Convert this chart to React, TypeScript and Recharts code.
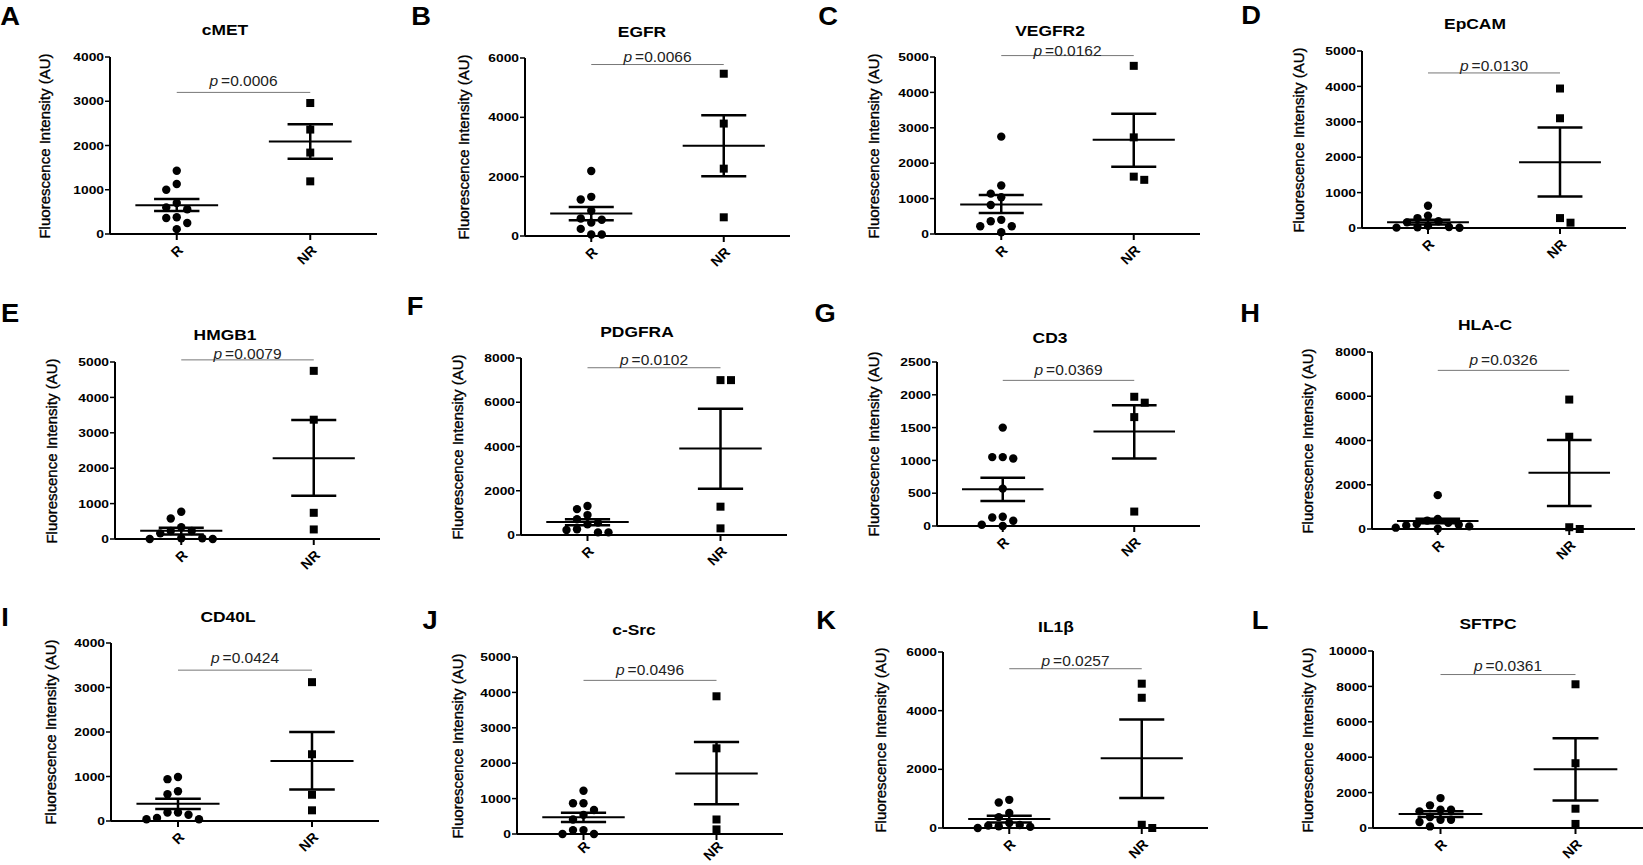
import React from "react";
import { ComposedChart, Scatter, XAxis, YAxis, ReferenceLine } from "recharts";

const FONT = '"Liberation Sans", Arial, sans-serif';

const groups = ["R", "NR"];

// fluorescence intensity (AU) per sample, responders (R) / non-responders (NR)
const cmetR = [1430, 1130, 1000, 700, 600, 560, 380, 360, 250, 110];
const cmetNR = [2960, 2360, 1840, 1190];
const egfrR = [2190, 1320, 1230, 850, 590, 550, 450, 240, 50, 50];
const egfrNR = [5470, 3790, 2270, 630];
const vegfr2R = [2750, 1370, 1140, 1040, 820, 400, 360, 220, 220, 50];
const vegfr2NR = [4750, 2730, 1620, 1530];
const epcamR = [630, 350, 280, 190, 160, 60, 30, 20, 10, 5];
const epcamNR = [3940, 3100, 280, 150];
const hmgb1R = [770, 580, 330, 225, 225, 160, 20, 20, 0, 0];
const hmgb1NR = [4750, 3370, 740, 270];
const pdgfraR = [1310, 1170, 900, 710, 560, 480, 260, 230, 120, 120];
const pdgfraNR = [7000, 7000, 1280, 300];
const cd3R = [1500, 1050, 1030, 1050, 570, 140, 130, 80, 0, 20];
const cd3NR = [1970, 1880, 1660, 220];
const hlacR = [1530, 450, 380, 280, 220, 190, 160, 120, 60, 10];
const hlacNR = [5850, 4170, 0, 80];
const cd40lR = [990, 940, 670, 600, 190, 190, 140, 70, 40, 40];
const cd40lNR = [3120, 1500, 590, 240];
const csrcR = [1220, 870, 870, 680, 540, 410, 110, 110, 0, 0];
const csrcNR = [3890, 2420, 410, 130];
const il1bR = [960, 870, 510, 370, 170, 100, 80, 60, 40, 0];
const il1bNR = [4920, 4440, 0, 110];
const sftpcR = [1690, 1280, 1030, 1030, 940, 620, 470, 470, 340, 90];
const sftpcNR = [8120, 3660, 1090, 230];

const markers = ["cMET", "EGFR", "VEGFR2", "EpCAM", "HMGB1", "PDGFRA", "CD3", "HLA-C", "CD40L", "c-Src", "IL1β", "SFTPC"];
const panelLetters = ["A", "B", "C", "D", "E", "F", "G", "H", "I", "J", "K", "L"];
const rValues = [cmetR, egfrR, vegfr2R, epcamR, hmgb1R, pdgfraR, cd3R, hlacR, cd40lR, csrcR, il1bR, sftpcR];
const nrValues = [cmetNR, egfrNR, vegfr2NR, epcamNR, hmgb1NR, pdgfraNR, cd3NR, hlacNR, cd40lNR, csrcNR, il1bNR, sftpcNR];

// [mean, mean - SEM, mean + SEM]
const rMeanSem = [
  [650, 520, 790], [760, 530, 980], [830, 590, 1100], [165, 100, 230],
  [230, 130, 320], [585, 440, 710], [560, 380, 735], [360, 256, 466],
  [390, 270, 500], [470, 340, 600], [310, 190, 420], [790, 620, 950],
];
const nrMeanSem = [
  [2090, 1700, 2480], [3040, 2010, 4070], [2660, 1900, 3400], [1860, 890, 2840],
  [2280, 1220, 3360], [3910, 2090, 5710], [1440, 1030, 1840], [2540, 1040, 4020],
  [1350, 710, 2000], [1710, 840, 2600], [2380, 1020, 3700], [3320, 1560, 5070],
];

const pValues = ["0.0006", "0.0066", "0.0162", "0.0130", "0.0079", "0.0102", "0.0369", "0.0326", "0.0424", "0.0496", "0.0257", "0.0361"];
const pBarAt = [3200, 5780, 5040, 4380, 5060, 7560, 2220, 7170, 3390, 4340, 5430, 8670];

const yTicks = [
  [0, 1000, 2000, 3000, 4000],
  [0, 2000, 4000, 6000],
  [0, 1000, 2000, 3000, 4000, 5000],
  [0, 1000, 2000, 3000, 4000, 5000],
  [0, 1000, 2000, 3000, 4000, 5000],
  [0, 2000, 4000, 6000, 8000],
  [0, 500, 1000, 1500, 2000, 2500],
  [0, 2000, 4000, 6000, 8000],
  [0, 1000, 2000, 3000, 4000],
  [0, 1000, 2000, 3000, 4000, 5000],
  [0, 2000, 4000, 6000],
  [0, 2000, 4000, 6000, 8000, 10000],
];

// where each panel sits on the page (px)
const LAYOUT = [
  { axisX: 110, xRight: 377, yTop: 57, yBot: 234, titleX: 225, titleY: 30, letterX: 10, letterY: 16, labelX: 44, pGap: 6, tickGap: 4 },
  { axisX: 525, xRight: 790, yTop: 58, yBot: 236, titleX: 642, titleY: 32, letterX: 421, letterY: 16, labelX: 463, pGap: 3, tickGap: 4 },
  { axisX: 935, xRight: 1200, yTop: 57, yBot: 234, titleX: 1050, titleY: 31, letterX: 828, letterY: 16, labelX: 873, pGap: 0, tickGap: 4 },
  { axisX: 1362, xRight: 1626, yTop: 51, yBot: 228, titleX: 1475, titleY: 24, letterX: 1251, letterY: 15, labelX: 1298, pGap: 2, tickGap: 4 },
  { axisX: 115, xRight: 380, yTop: 362, yBot: 539, titleX: 225, titleY: 335, letterX: 10, letterY: 313, labelX: 51, pGap: 1, tickGap: 4 },
  { axisX: 521, xRight: 787, yTop: 358, yBot: 535, titleX: 637, titleY: 332, letterX: 415, letterY: 306, labelX: 457, pGap: 3, tickGap: 4 },
  { axisX: 937, xRight: 1200, yTop: 362, yBot: 526, titleX: 1050, titleY: 338, letterX: 825, letterY: 313, labelX: 873, pGap: 5, tickGap: 4 },
  { axisX: 1372, xRight: 1635, yTop: 352, yBot: 529, titleX: 1485, titleY: 325, letterX: 1250, letterY: 313, labelX: 1307, pGap: 5, tickGap: 4 },
  { axisX: 111, xRight: 379, yTop: 643, yBot: 821, titleX: 228, titleY: 617, letterX: 5, letterY: 617, labelX: 50, pGap: 7, tickGap: 4 },
  { axisX: 517, xRight: 783, yTop: 657, yBot: 834, titleX: 634, titleY: 630, letterX: 430, letterY: 620, labelX: 457, pGap: 5, tickGap: 0 },
  { axisX: 943, xRight: 1208, yTop: 652, yBot: 828, titleX: 1056, titleY: 627, letterX: 826, letterY: 620, labelX: 880, pGap: 3, tickGap: 4 },
  { axisX: 1373, xRight: 1643, yTop: 651, yBot: 828, titleX: 1488, titleY: 624, letterX: 1260, letterY: 620, labelX: 1307, pGap: 4, tickGap: 4 },
];

const ML = 70;
const MT = 40;
const MR = 2;
const MB = 50;
const MEAN_HALF = 0.31;
const SEM_HALF = 0.17;

// spread tied points sideways like a dot plot
function swarm(values: number[], center: number, yMax: number, plotW: number, plotH: number, dir: number) {
  const pxPerUnit = plotW / 2;
  const step = 10.5;
  const placed: { px: number; py: number; v: number }[] = [];
  const order = values.map((_, k) => k).sort((a, b) => values[b] - values[a]);
  for (const k of order) {
    const py = (values[k] / yMax) * plotH;
    for (let j = 0; j < 12; j++) {
      const off = j === 0 ? 0 : (j % 2 ? Math.ceil(j / 2) : -j / 2) * step * dir;
      const hit = placed.some((p) => Math.abs(p.px - off) < step * 0.8 && Math.abs(p.py - py) < 9);
      if (!hit) {
        placed.push({ px: off, py, v: values[k] });
        break;
      }
    }
  }
  return placed.map((p) => ({ x: center + p.px / pxPerUnit, y: p.v }));
}

const YTick = (props: any) => {
  const { x, y, payload } = props;
  return (
    <g transform={`translate(${x},${y}) scale(1.2,1)`}>
      <text x={0} y={0} dy="0.36em" textAnchor="end" fontWeight="bold" fontSize={11.5} fontFamily={FONT} fill="#000">
        {payload.value}
      </text>
    </g>
  );
};

const XTick = (props: any) => {
  const { x, y, index } = props;
  return (
    <text x={x} y={y} dy={10} transform={`rotate(-45, ${x}, ${y})`} textAnchor="end" fontWeight="bold" fontSize={14} fontFamily={FONT} fill="#000">
      {groups[index]}
    </text>
  );
};

const PLabel = (props: any) => {
  const { viewBox, text, gap } = props;
  if (!viewBox) return null;
  return (
    <text x={viewBox.x + viewBox.width / 2} y={viewBox.y - gap} textAnchor="middle" fontSize={15.5} fontFamily={FONT} fill="#222">
      <tspan fontStyle="italic">p</tspan>
      {"\u2009=" + text}
    </text>
  );
};

const dot = (p: any) => <circle cx={p.cx} cy={p.cy} r={4.2} fill="#000" />;
const square = (p: any) => <rect x={p.cx - 4} y={p.cy - 4} width={8} height={8} fill="#000" />;

function statLines(center: number, stat: number[], key: string) {
  const [m, lo, hi] = stat;
  return [
    <ReferenceLine key={key + "m"} segment={[{ x: center - MEAN_HALF, y: m }, { x: center + MEAN_HALF, y: m }]} stroke="#000" strokeWidth={2} ifOverflow="visible" />,
    <ReferenceLine key={key + "l"} segment={[{ x: center - SEM_HALF, y: lo }, { x: center + SEM_HALF, y: lo }]} stroke="#000" strokeWidth={2.5} ifOverflow="visible" />,
    <ReferenceLine key={key + "h"} segment={[{ x: center - SEM_HALF, y: hi }, { x: center + SEM_HALF, y: hi }]} stroke="#000" strokeWidth={2.5} ifOverflow="visible" />,
    <ReferenceLine key={key + "v"} segment={[{ x: center, y: lo }, { x: center, y: hi }]} stroke="#000" strokeWidth={2.5} ifOverflow="visible" />,
  ];
}

function Panel({ i }: { i: number }) {
  const L = LAYOUT[i];
  const plotW = L.xRight - L.axisX;
  const plotH = L.yBot - L.yTop;
  const ticks = yTicks[i];
  const yMax = ticks[ticks.length - 1];
  const rData = swarm(rValues[i], 0.5, yMax, plotW, plotH, -1);
  const nrData = swarm(nrValues[i], 1.5, yMax, plotW, plotH, 1);

  return (
    <>
      <div style={{ position: "absolute", left: L.axisX - ML, top: L.yTop - MT }}>
        <ComposedChart width={plotW + ML + MR} height={plotH + MT + MB} margin={{ top: MT, right: MR, bottom: 0, left: 0 }}>
          <XAxis
            type="number"
            dataKey="x"
            domain={[0, 2]}
            ticks={[0.5, 1.5]}
            allowDataOverflow
            height={MB}
            tickSize={6}
            tickMargin={L.tickGap}
            tick={<XTick />}
            axisLine={{ stroke: "#000", strokeWidth: 2 }}
            tickLine={{ stroke: "#000", strokeWidth: 2 }}
          />
          <YAxis
            type="number"
            dataKey="y"
            domain={[0, yMax]}
            ticks={ticks}
            interval={0}
            width={ML}
            tickSize={5}
            tickMargin={1}
            tick={<YTick />}
            axisLine={{ stroke: "#000", strokeWidth: 2 }}
            tickLine={{ stroke: "#000", strokeWidth: 1.5 }}
          />
          <ReferenceLine
            segment={[{ x: 0.5, y: pBarAt[i] }, { x: 1.5, y: pBarAt[i] }]}
            stroke="#777"
            strokeWidth={1}
            ifOverflow="visible"
            label={<PLabel text={pValues[i]} gap={L.pGap} />}
          />
          <Scatter data={rData} shape={dot} isAnimationActive={false} />
          <Scatter data={nrData} shape={square} isAnimationActive={false} />
          {statLines(0.5, rMeanSem[i], "r")}
          {statLines(1.5, nrMeanSem[i], "nr")}
        </ComposedChart>
      </div>
      <div
        style={{
          position: "absolute", left: L.titleX, top: L.titleY, transform: "translate(-50%, -50%) scaleX(1.2)",
          fontWeight: "bold", fontSize: 14.5, whiteSpace: "nowrap", lineHeight: 1,
        }}
      >
        {markers[i]}
      </div>
      <div
        style={{
          position: "absolute", left: L.letterX, top: L.letterY, transform: "translate(-50%, -50%) scaleX(1.05)",
          fontWeight: "bold", fontSize: 26, lineHeight: 1,
        }}
      >
        {panelLetters[i]}
      </div>
      <div
        style={{
          position: "absolute", left: L.labelX, top: (L.yTop + L.yBot) / 2, transform: "translate(-50%, -50%) rotate(-90deg)",
          fontSize: 15, whiteSpace: "nowrap", lineHeight: 1, color: "#000", WebkitTextStroke: "0.35px #000",
        }}
      >
        Fluorescence Intensity (AU)
      </div>
    </>
  );
}

export default function App() {
  return (
    <div
      style={{
        position: "absolute", left: 0, top: 0, width: 1643, height: 865, background: "#fff",
        overflow: "hidden", fontFamily: FONT, color: "#000",
      }}
    >
      {markers.map((_, i) => (
        <Panel key={i} i={i} />
      ))}
    </div>
  );
}
